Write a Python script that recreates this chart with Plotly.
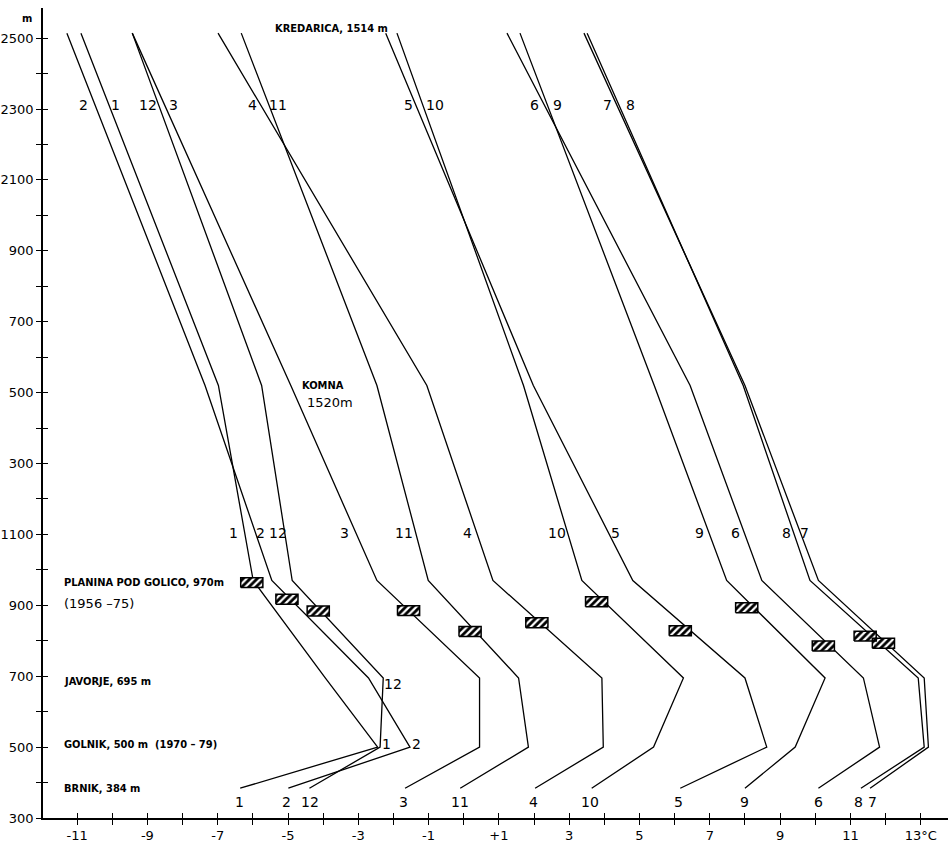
import plotly.graph_objects as go

# ---------------- data ----------------
months = [1, 2, 3, 4, 5, 6, 7, 8, 9, 10, 11, 12]
station_alt = [384, 500, 695, 970, 1520, 2514]  # Brnik, Golnik, Javorje, Planina, Komna, Kredarica

t_m1 = [-6.36, -2.45, -3.94, -5.99, -6.98, -10.89]
t_m2 = [-4.99, -1.53, -2.71, -5.46, -7.36, -11.29]
t_m3 = [-1.67, 0.45, 0.45, -2.47, -4.92, -9.43]
t_m4 = [2.03, 3.97, 3.93, 0.83, -1.05, -6.99]
t_m5 = [6.16, 8.62, 8.00, 4.81, 1.98, -2.22]
t_m6 = [10.09, 11.83, 11.37, 8.48, 6.44, 1.23]
t_m7 = [11.56, 13.22, 13.10, 10.09, 8.00, 3.42]
t_m8 = [11.30, 13.10, 12.93, 9.85, 7.95, 3.51]
t_m9 = [8.00, 9.43, 10.28, 7.48, 5.42, 1.60]
t_m10 = [3.64, 5.40, 6.25, 3.36, 1.70, -1.90]
t_m11 = [-0.10, 1.84, 1.56, -1.01, -2.47, -6.33]
t_m12 = [-4.39, -2.38, -2.29, -4.88, -5.75, -9.43]
month_temps = [t_m1, t_m2, t_m3, t_m4, t_m5, t_m6, t_m7, t_m8, t_m9, t_m10, t_m11, t_m12]

# Planina pod Golico (1956-75) markers
planina_t = [-6.03, -5.03, -1.57, 2.08, 6.16, 10.23, 11.94, 11.42, 8.05, 3.78, 0.18, -4.14]
planina_alt = [964, 917, 885, 851, 828, 785, 793, 813, 893, 910, 826, 884]

# month label positions
top_lab_t = [-9.92, -10.83, -8.27, -6.02, -1.58, 2.00, 4.08, 4.73, 2.66, -0.81, -5.28, -8.98]
top_lab_alt = 2310
mid_lab_t = [-6.56, -5.79, -3.38, 0.10, 4.31, 7.72, 9.68, 9.17, 6.72, 2.66, -1.70, -5.28]
mid_lab_alt = 1105
bot_lab_t = [-6.38, -5.05, -1.72, 1.98, 6.11, 10.09, 11.63, 11.23, 7.98, 3.59, -0.10, -4.37]
bot_lab_alt = 345
extra_lab_text = ["12", "1", "2"]
extra_lab_t = [-2.01, -2.19, -1.34]
extra_lab_alt = [678, 510, 510]

station_text = ["KREDARICA, 1514 m", "KOMNA", "1520m", "PLANINA POD GOLICO, 970m", "(1956 –75)",
                "JAVORJE, 695 m", "GOLNIK, 500 m  (1970 – 79)", "BRNIK, 384 m"]
station_text_t = [-5.42, -4.66, -4.51, -11.43, -11.43, -11.43, -11.43, -11.43]
station_text_alt = [2528, 1521, 1471, 963, 906, 686, 506, 382]
station_text_bold = [True, True, False, True, False, True, True, True]

y_tick_vals = [300, 500, 700, 900, 1100, 1300, 1500, 1700, 1900, 2100, 2300, 2500]
y_tick_text = ["300", "500", "700", "900", "1100", "300", "500", "700", "900", "2100", "2300", "2500"]
x_tick_vals = [-11, -9, -7, -5, -3, -1, 1, 3, 5, 7, 9, 11, 13]
x_tick_text = ["-11", "-9", "-7", "-5", "-3", "-1", "+1", "3", "5", "7", "9", "11", "13°C"]

# ---------------- figure ----------------
W, H = 950, 848
ML, MR, MT, MB = 43, 2, 8, 30
px_per_deg = 35.15
px_per_m = 0.3545
x0 = -11.97
x_range = [x0, x0 + (W - ML - MR) / px_per_deg]
y_range = [300, 300 + (H - MT - MB) / px_per_m]

NUM_FONT = "DejaVu Sans, Liberation Sans, Arial, sans-serif"
COND_FONT = "DejaVu Sans Condensed, Liberation Sans Narrow, Arial Narrow, sans-serif"

fig = go.Figure()

for m, temps in zip(months, month_temps):
    fig.add_trace(go.Scatter(x=temps, y=station_alt, mode="lines",
                             line=dict(color="black", width=1.3),
                             name=str(m), showlegend=False, hoverinfo="skip"))

# hatched rectangles
rw, rh = 0.63, 28
rx, ry = [], []
for t, a in zip(planina_t, planina_alt):
    rx += [t - rw / 2, t + rw / 2, t + rw / 2, t - rw / 2, t - rw / 2, None]
    ry += [a - rh / 2, a - rh / 2, a + rh / 2, a + rh / 2, a - rh / 2, None]
fig.add_trace(go.Scatter(x=rx, y=ry, mode="lines", fill="toself",
                         fillcolor="white",
                         fillpattern=dict(shape="/", fgcolor="black", bgcolor="white",
                                          size=5, solidity=0.55, fgopacity=1),
                         line=dict(color="black", width=1.5),
                         showlegend=False, hoverinfo="skip"))

# dummy trace for overlay axes (inner tick halves)
fig.add_trace(go.Scatter(x=[x_range[0]], y=[y_range[0]], xaxis="x2", yaxis="y2",
                         mode="markers", marker=dict(opacity=0), showlegend=False,
                         hoverinfo="skip"))

ann = []
def add_label(text, x, y, size=14, xanchor="center", family=NUM_FONT, bold=False):
    ann.append(dict(x=x, y=y, xref="x", yref="y", text=("<b>%s</b>" % text) if bold else text,
                    showarrow=False, xanchor=xanchor, yanchor="middle",
                    font=dict(family=family, size=size, color="black")))

for m, t in zip(months, top_lab_t):
    add_label(str(m), t, top_lab_alt)
for m, t in zip(months, mid_lab_t):
    add_label(str(m), t, mid_lab_alt)
for m, t in zip(months, bot_lab_t):
    add_label(str(m), t, bot_lab_alt)
for s, t, a in zip(extra_lab_text, extra_lab_t, extra_lab_alt):
    add_label(s, t, a)
for s, t, a, b in zip(station_text, station_text_t, station_text_alt, station_text_bold):
    add_label(s, t, a, size=11 if b else 13, xanchor="left",
              family=COND_FONT if b else NUM_FONT, bold=b)
# unit label on y axis
ann.append(dict(x=-0.018, y=0.998, xref="paper", yref="paper", text="<b>m</b>", showarrow=False,
                xanchor="center", yanchor="top", font=dict(family=COND_FONT, size=11, color="black")))

axis_common = dict(showgrid=False, zeroline=False, linecolor="black", linewidth=1.5,
                   tickcolor="black", tickwidth=1.2)

fig.update_layout(
    width=W, height=H,
    margin=dict(l=ML, r=MR, t=MT, b=MB),
    paper_bgcolor="white", plot_bgcolor="white",
    showlegend=False,
    annotations=ann,
    xaxis=dict(range=x_range, tickmode="array", tickvals=x_tick_vals, ticktext=x_tick_text,
               ticks="outside", ticklen=5, showline=True, automargin=False,
               tickfont=dict(family=NUM_FONT, size=13, color="black"),
               minor=dict(tickmode="linear", tick0=-10, dtick=2, ticks="outside", ticklen=5,
                          tickcolor="black", tickwidth=1.2),
               **axis_common),
    yaxis=dict(range=y_range, tickmode="array", tickvals=y_tick_vals, ticktext=y_tick_text,
               ticks="outside", ticklen=5, showline=True, automargin=False,
               tickfont=dict(family=NUM_FONT, size=13, color="black"),
               minor=dict(tickmode="linear", tick0=400, dtick=200, ticks="outside", ticklen=5,
                          tickcolor="black", tickwidth=1.2),
               **axis_common),
    xaxis2=dict(range=x_range, overlaying="x", anchor="y2", side="bottom",
                tickmode="linear", tick0=-11, dtick=1, ticks="inside", ticklen=5,
                showticklabels=False, showline=False, showgrid=False, zeroline=False,
                tickcolor="black", tickwidth=1.2),
    yaxis2=dict(range=y_range, overlaying="y", anchor="x2", side="left",
                tickmode="linear", tick0=300, dtick=100, ticks="inside", ticklen=5,
                showticklabels=False, showline=False, showgrid=False, zeroline=False,
                tickcolor="black", tickwidth=1.2),
)

# remove the browser's default page margin so the 950x848 figure fills the window exactly
fig.write_html("out.html",
               config={"displayModeBar": False},
               post_script="document.body.style.margin='0';document.body.style.padding='0';"
                           "document.documentElement.style.overflow='hidden';")
